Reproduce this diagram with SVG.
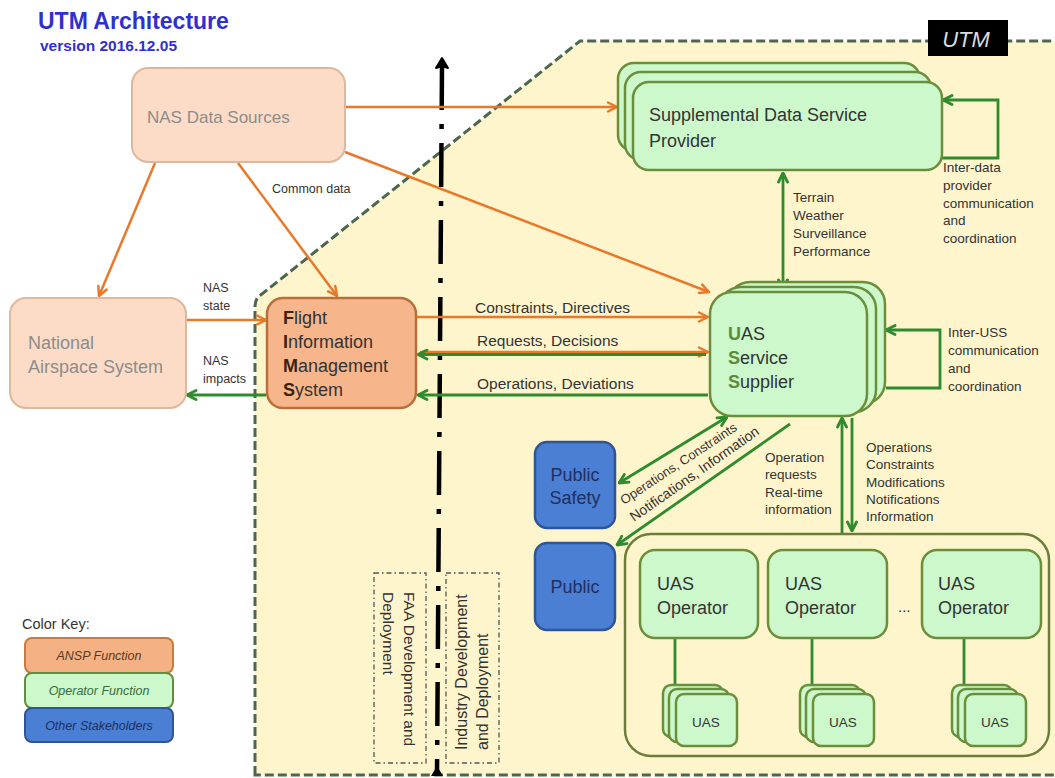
<svg xmlns="http://www.w3.org/2000/svg" width="1055" height="778" viewBox="0 0 1055 778">
<style>
text{font-family:"Liberation Sans",Arial,sans-serif;fill:#333}
.ttl{fill:#3030d0;font-weight:bold}
.gbox{fill:#ccf8cc;stroke:#6b8e3a;stroke-width:2.5}
.nas{fill:#fcdcc6;stroke:#dcb89e;stroke-width:2}
.fims{fill:#f6b58a;stroke:#b8703a;stroke-width:2.5}
.blue{fill:#4a7fd4;stroke:#2f5597;stroke-width:2.5}
.ol{fill:none;stroke:#e8782a;stroke-width:2.5}
.gl{fill:none;stroke:#2e8b2e;stroke-width:2.8}
.lbl{font-size:13.5px}
.mid{font-size:15.5px}
.big{font-size:18px}
.grey{fill:#8c8c8c}
.navy{fill:#1f2f60}
.vbox{fill:none;stroke:#555;stroke-width:1.3;stroke-dasharray:5 3 1.5 3}
</style>
<defs>
<marker id="ao" viewBox="0 0 12 12" refX="11" refY="6" markerWidth="12" markerHeight="12" markerUnits="userSpaceOnUse" orient="auto-start-reverse"><path d="M2,1.5 L11,6 L2,10.5" fill="none" stroke="#e8782a" stroke-width="2.5" stroke-linecap="round" stroke-linejoin="round"/></marker>
<marker id="ag" viewBox="0 0 12 12" refX="11" refY="6" markerWidth="12" markerHeight="12" markerUnits="userSpaceOnUse" orient="auto-start-reverse"><path d="M2,1.5 L11,6 L2,10.5" fill="none" stroke="#2e8b2e" stroke-width="2.8" stroke-linecap="round" stroke-linejoin="round"/></marker>
</defs>
<rect x="0" y="0" width="1055" height="778" fill="#fff"/>

<g id="title">
<text class="ttl" x="38" y="29" font-size="23">UTM Architecture</text>
<text class="ttl" x="40" y="51" font-size="15.5">version 2016.12.05</text>
</g>

<g id="utm-region">
<path d="M255,775 L255,306 Q255,298 262,294 L580,41 L1058,41 L1058,775 Z" fill="#fff5cc" stroke="#4d6650" stroke-width="3" stroke-dasharray="9 4"/>
<rect x="928" y="20" width="80" height="36" fill="#000"/>
<text x="966" y="47" font-size="22" font-style="italic" text-anchor="middle" style="fill:#ddd">UTM</text>
</g>

<g id="divider">
<line x1="442" y1="66" x2="437" y2="772" stroke="#000" stroke-width="4.5" stroke-dasharray="44 14 5 14"/>
<path d="M442,58 L448,68 L442,66 L436,68 Z" fill="#000" stroke="#000" stroke-width="2" stroke-linejoin="round"/>
<path d="M437,766 L443,776 L431,776 Z" fill="#000"/>
</g>

<g id="faa-label">
<rect class="vbox" x="374" y="573" width="52" height="190"/>
<text transform="translate(404,592) rotate(90)" font-size="15.5">FAA Development and</text>
<text transform="translate(383,592) rotate(90)" font-size="15.5">Deployment</text>
</g>
<g id="industry-label">
<rect class="vbox" x="446" y="573" width="53" height="190"/>
<text transform="translate(467,750) rotate(-90)" font-size="16">Industry Development</text>
<text transform="translate(488,750) rotate(-90)" font-size="16">and Deployment</text>
</g>

<g id="connectors">
<path class="ol" d="M345,107 L617,107" marker-end="url(#ao)"/>
<path class="ol" d="M155,163 L99,296" marker-end="url(#ao)"/>
<path class="ol" d="M238,163 L337,296" marker-end="url(#ao)"/>
<path class="ol" d="M345,152 L709,292" marker-end="url(#ao)"/>
<path class="ol" d="M187,320 L266,320" marker-end="url(#ao)"/>
<path class="ol" d="M416,317 L708,317" marker-end="url(#ao)"/>
<path class="ol" d="M420,352 L708,352" marker-end="url(#ao)"/>
<path class="gl" d="M706,354.5 L418,354.5" marker-end="url(#ag)"/>
<path class="gl" d="M708,395 L418,395" marker-end="url(#ag)"/>
<path class="gl" d="M266,395 L187,395" marker-end="url(#ag)"/>
<path class="gl" d="M783,173 L783,289" marker-start="url(#ag)" marker-end="url(#ag)"/>
<path class="gl" d="M942,158 H998 V100 H943" marker-end="url(#ag)"/>
<path class="gl" d="M886,388 H940 V330 H886" marker-end="url(#ag)"/>
<path class="gl" d="M727,417 L619,483" marker-start="url(#ag)" marker-end="url(#ag)"/>
<path class="gl" d="M790,424 L617,545" marker-end="url(#ag)"/>
<path class="gl" d="M842,533 L842,418" marker-end="url(#ag)"/>
<path class="gl" d="M852,418 L852,531" marker-end="url(#ag)"/>
<path class="gl" d="M675,638 V690 M812,638 V690 M964,638 V690"/>
<text x="203" y="292" font-size="12.5">NAS</text>
<text x="203" y="310" font-size="12.5">state</text>
<text x="203" y="365" font-size="12.5">NAS</text>
<text x="203" y="383" font-size="12.5">impacts</text>
<text x="272" y="193" font-size="12.5">Common data</text>
<text class="mid" x="475" y="313">Constraints, Directives</text>
<text class="mid" x="477" y="346">Requests, Decisions</text>
<text class="mid" x="477" y="389">Operations, Deviations</text>
<text class="lbl" x="793" y="202">Terrain</text>
<text class="lbl" x="793" y="220">Weather</text>
<text class="lbl" x="793" y="238">Surveillance</text>
<text class="lbl" x="793" y="256">Performance</text>
<text class="lbl" x="943" y="172">Inter-data</text>
<text class="lbl" x="943" y="190">provider</text>
<text class="lbl" x="943" y="208">communication</text>
<text class="lbl" x="943" y="225">and</text>
<text class="lbl" x="943" y="243">coordination</text>
<text class="lbl" x="948" y="337">Inter-USS</text>
<text class="lbl" x="948" y="355">communication</text>
<text class="lbl" x="948" y="373">and</text>
<text class="lbl" x="948" y="391">coordination</text>
<text transform="translate(624,505) rotate(-33.5)" font-size="13">Operations, Constraints</text>
<text transform="translate(634,522) rotate(-35)" font-size="14">Notifications, Information</text>
<text class="lbl" x="765" y="462">Operation</text>
<text class="lbl" x="765" y="479">requests</text>
<text class="lbl" x="765" y="497">Real-time</text>
<text class="lbl" x="765" y="514">information</text>
<text class="lbl" x="866" y="452">Operations</text>
<text class="lbl" x="866" y="469">Constraints</text>
<text class="lbl" x="866" y="487">Modifications</text>
<text class="lbl" x="866" y="504">Notifications</text>
<text class="lbl" x="866" y="521">Information</text>
</g>

<g id="nas-data-sources">
<rect class="nas" x="132" y="68" width="213" height="94" rx="16"/>
<text class="grey" x="147" y="123" font-size="17">NAS Data Sources</text>
</g>

<g id="national-airspace-system">
<rect class="nas" x="10" y="298" width="176" height="110" rx="16"/>
<text class="grey big" x="28" y="349">National</text>
<text class="grey big" x="28" y="373">Airspace System</text>
</g>

<g id="fims">
<rect class="fims" x="267" y="298" width="149" height="110" rx="16"/>
<text class="big" x="283" y="324"><tspan font-weight="bold" style="fill:#3a2410">F</tspan>light</text>
<text class="big" x="283" y="348"><tspan font-weight="bold" style="fill:#3a2410">I</tspan>nformation</text>
<text class="big" x="283" y="372"><tspan font-weight="bold" style="fill:#3a2410">M</tspan>anagement</text>
<text class="big" x="283" y="396"><tspan font-weight="bold" style="fill:#3a2410">S</tspan>ystem</text>
</g>

<g id="sdsp">
<rect class="gbox" x="618" y="63" width="302" height="88" rx="16"/>
<rect class="gbox" x="625" y="72" width="306" height="88" rx="16"/>
<rect class="gbox" x="633" y="82" width="309" height="88" rx="16"/>
<text class="big" x="649" y="121">Supplemental Data Service</text>
<text class="big" x="649" y="147">Provider</text>
</g>

<g id="uss">
<rect class="gbox" x="728" y="282" width="157" height="122" rx="22"/>
<rect class="gbox" x="719" y="287" width="157" height="125" rx="22"/>
<rect class="gbox" x="710" y="292" width="157" height="124" rx="22"/>
<text class="big" x="728" y="340"><tspan font-weight="bold" style="fill:#5f8a3a">U</tspan>AS</text>
<text class="big" x="728" y="364"><tspan font-weight="bold" style="fill:#5f8a3a">S</tspan>ervice</text>
<text class="big" x="728" y="388"><tspan font-weight="bold" style="fill:#5f8a3a">S</tspan>upplier</text>
</g>

<g id="public-safety">
<rect class="blue" x="535" y="442" width="80" height="86" rx="12"/>
<text class="big navy" x="575" y="481" text-anchor="middle">Public</text>
<text class="big navy" x="575" y="504" text-anchor="middle">Safety</text>
</g>

<g id="public">
<rect class="blue" x="535" y="543" width="80" height="87" rx="12"/>
<text class="big navy" x="575" y="593" text-anchor="middle">Public</text>
</g>

<g id="operators-group">
<rect x="625" y="534" width="424" height="222" rx="26" fill="none" stroke="#6b7d3a" stroke-width="2.5"/>
<text x="898" y="612" font-size="15">...</text>
</g>

<g id="operator-1">
<rect class="gbox" x="640" y="550" width="118" height="88" rx="15"/>
<text class="big" x="657" y="590">UAS</text>
<text class="big" x="657" y="614">Operator</text>
</g>
<g id="operator-2">
<rect class="gbox" x="768" y="550" width="119" height="88" rx="15"/>
<text class="big" x="785" y="590">UAS</text>
<text class="big" x="785" y="614">Operator</text>
</g>
<g id="operator-3">
<rect class="gbox" x="922" y="550" width="119" height="88" rx="15"/>
<text class="big" x="938" y="590">UAS</text>
<text class="big" x="938" y="614">Operator</text>
</g>

<g id="uas-1">
<rect class="gbox" x="663" y="685" width="60" height="52" rx="8"/>
<rect class="gbox" x="669" y="689" width="60" height="53" rx="8"/>
<rect class="gbox" x="676" y="694" width="61" height="52" rx="8"/>
<text x="706" y="727" font-size="13.5" text-anchor="middle">UAS</text>
</g>
<g id="uas-2">
<rect class="gbox" x="800" y="685" width="60" height="52" rx="8"/>
<rect class="gbox" x="806" y="689" width="60" height="53" rx="8"/>
<rect class="gbox" x="813" y="694" width="61" height="52" rx="8"/>
<text x="843" y="727" font-size="13.5" text-anchor="middle">UAS</text>
</g>
<g id="uas-3">
<rect class="gbox" x="952" y="685" width="60" height="52" rx="8"/>
<rect class="gbox" x="958" y="689" width="60" height="53" rx="8"/>
<rect class="gbox" x="965" y="694" width="61" height="52" rx="8"/>
<text x="995" y="727" font-size="13.5" text-anchor="middle">UAS</text>
</g>

<g id="color-key">
<text x="22" y="629" font-size="14.5">Color Key:</text>
<rect x="25" y="638" width="148" height="35" rx="7" fill="#f4b183" stroke="#c97a3d" stroke-width="2"/>
<rect x="25" y="673" width="148" height="35" rx="7" fill="#ccf8cc" stroke="#5f8f3f" stroke-width="2"/>
<rect x="25" y="708" width="148" height="34" rx="7" fill="#4a7fd4" stroke="#2f5597" stroke-width="2"/>
<text x="99" y="660" font-size="12.5" font-style="italic" text-anchor="middle" style="fill:#5a3a20">ANSP Function</text>
<text x="99" y="695" font-size="12.5" font-style="italic" text-anchor="middle" style="fill:#3a6a3a">Operator Function</text>
<text x="99" y="730" font-size="12.5" font-style="italic" text-anchor="middle" style="fill:#1f3060">Other Stakeholders</text>
</g>
</svg>
